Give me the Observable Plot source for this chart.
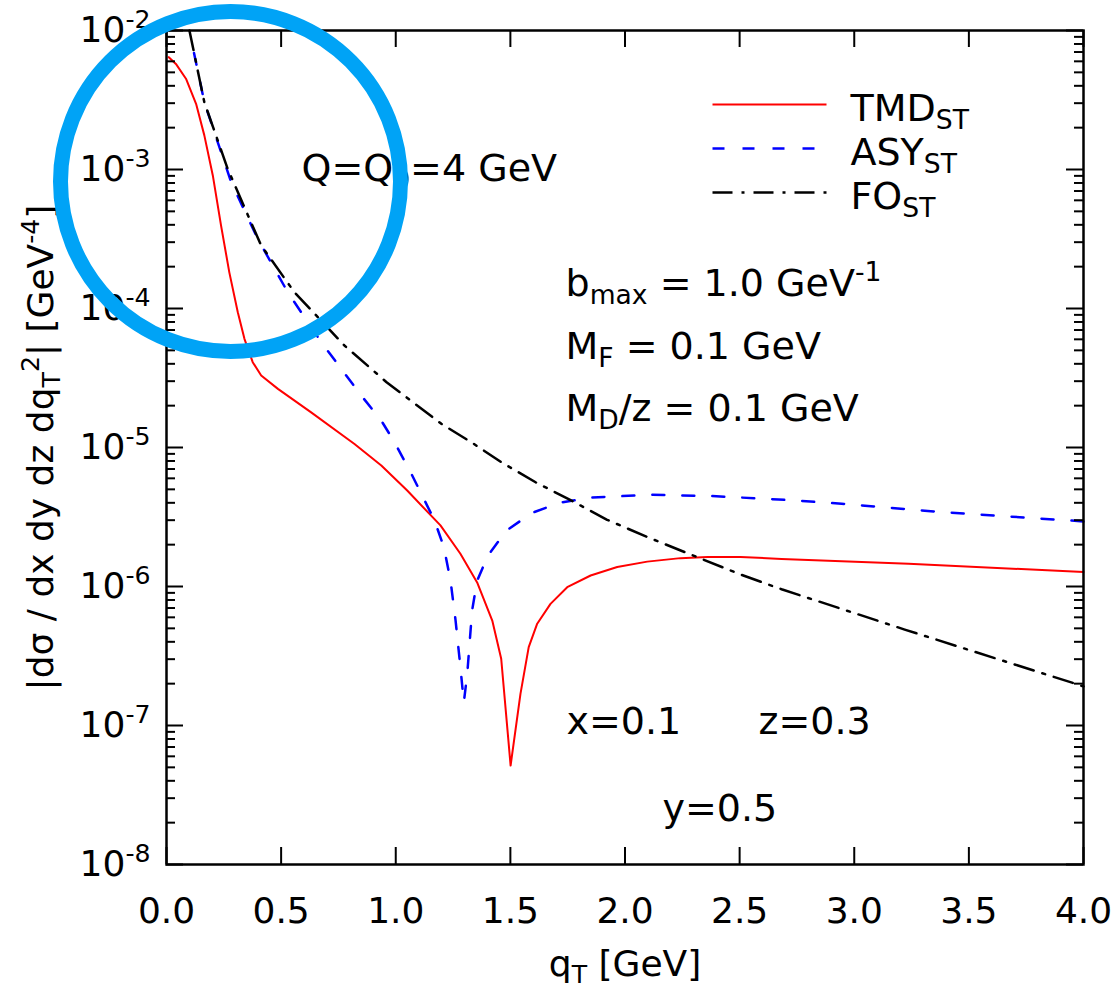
<!DOCTYPE html>
<html>
<head>
<meta charset="utf-8">
<script src="https://cdn.jsdelivr.net/npm/d3@7"></script>
<script src="https://cdn.jsdelivr.net/npm/@observablehq/plot@0.6"></script>
<style>
  html, body { margin: 0; padding: 0; background: #fff; }
  svg { display: block; }
</style>
</head>
<body>
<div id="chart"></div>
<script>
// ---------- data ----------
const tmdQ = [0.01, 0.041, 0.085, 0.129, 0.165, 0.202, 0.238, 0.274, 0.311, 0.34, 0.376, 0.413, 0.486, 0.631, 0.82, 0.937, 1.05, 1.195, 1.282, 1.355, 1.421, 1.46, 1.501, 1.544, 1.58, 1.617, 1.675, 1.748, 1.85, 1.966, 2.097, 2.242, 2.359, 2.504, 2.683, 3.237, 4.0];
const tmdV = [6.43e-3, 5.75e-3, 4.50e-3, 2.97e-3, 1.76e-3, 9.06e-4, 3.95e-4, 1.82e-4, 9.40e-5, 6.05e-5, 4.11e-5, 3.30e-5, 2.64e-5, 1.79e-5, 1.06e-5, 7.43e-6, 4.90e-6, 2.75e-6, 1.72e-6, 1.07e-6, 5.69e-7, 3.02e-7, 5.15e-8, 1.69e-7, 3.66e-7, 5.40e-7, 7.50e-7, 9.89e-7, 1.20e-6, 1.38e-6, 1.51e-6, 1.60e-6, 1.63e-6, 1.63e-6, 1.58e-6, 1.46e-6, 1.27e-6];

const asyQ = [0.12, 0.165, 0.282, 0.398, 0.529, 0.675, 0.849, 0.937, 0.995, 1.068, 1.169, 1.21, 1.239, 1.261, 1.282, 1.297, 1.312, 1.333, 1.355, 1.402, 1.483, 1.595, 1.719, 1.857, 2.119, 2.38, 2.669, 2.945, 3.382, 4.0];
const asyV = [6.9e-3, 3.05e-3, 8.11e-4, 3.17e-4, 1.31e-4, 5.73e-5, 2.37e-5, 1.56e-5, 1.09e-5, 6.47e-6, 2.99e-6, 1.92e-6, 1.10e-6, 5.69e-7, 2.63e-7, 1.47e-7, 2.36e-7, 6.71e-7, 1.10e-6, 1.67e-6, 2.53e-6, 3.39e-6, 4.02e-6, 4.37e-6, 4.57e-6, 4.47e-6, 4.23e-6, 3.94e-6, 3.43e-6, 2.94e-6];

const foQ = [0.1, 0.165, 0.267, 0.413, 0.558, 0.776, 0.96, 1.199, 1.33, 1.461, 1.61, 1.752, 1.922, 2.1, 2.286, 2.504, 2.683, 3.22, 3.964, 4.0];
const foV = [1.0e-2, 3.05e-3, 1.01e-3, 2.84e-4, 1.31e-4, 5.42e-5, 2.95e-5, 1.48e-5, 1.09e-5, 7.83e-6, 5.62e-6, 4.27e-6, 3.02e-6, 2.26e-6, 1.70e-6, 1.22e-6, 9.55e-7, 4.90e-7, 2.00e-7, 1.91e-7];

const seriesNames = ["TMD_{ST}", "ASY_{ST}", "FO_{ST}"];
const xTicks = [0, 0.5, 1.0, 1.5, 2.0, 2.5, 3.0, 3.5, 4.0];
const yTicks = [1e-8, 1e-7, 1e-6, 1e-5, 1e-4, 1e-3, 1e-2];
const yMinor = yTicks.slice(0, -1).flatMap(d => [2, 3, 4, 5, 6, 7, 8, 9].map(k => k * d));

const annotations = ["Q=Q_{0}=4 GeV", "b_{max} = 1.0 GeV^{-1}", "M_{F} = 0.1 GeV", "M_{D}/z = 0.1 GeV", "x=0.1", "z=0.3", "y=0.5"];
const xLabel = "q_{T} [GeV]";
const yLabel = "|dσ / dx dy dz dq_{T}^{2}| [GeV^{-4}]";

// ---------- layout ----------
const W = 1118, H = 989;
const mL = 166, mR = 35, mT = 30, mB = 125;
const frameW = W - mL - mR, frameH = H - mT - mB;
const FS = 36, FS2 = 38;
// pixel -> data helpers for placing annotations
const xAt = px => (px - mL) / frameW * 4;
const yAt = py => Math.pow(10, -2 - (py - mT) / frameH * 6);

const rows = (qs, vs) => qs.map((q, i) => ({q, v: vs[i]}));
const styles = [
  {data: rows(tmdQ, tmdV), stroke: "#ff0000", width: 2, dash: null},
  {data: rows(asyQ, asyV), stroke: "#0000ff", width: 2.5, dash: "12,18"},
  {data: rows(foQ, foV), stroke: "#000000", width: 2.5, dash: "20,9,3,9"}
];

const annPos = [
  [301, 180], [565, 295], [565, 358], [565, 420], [566, 733], [758, 733], [662, 820]
];

const marks = [];
styles.forEach(s => {
  marks.push(Plot.line(s.data, {x: "q", y: "v", stroke: s.stroke, strokeWidth: s.width, strokeDasharray: s.dash, strokeLinejoin: "round"}));
});
// legend
seriesNames.forEach((name, i) => {
  const s = styles[i];
  const ly = 104 + 44 * i;
  marks.push(Plot.link([name], {x1: xAt(712), x2: xAt(826), y1: yAt(ly), y2: yAt(ly), stroke: s.stroke, strokeWidth: s.width, strokeDasharray: s.dash}));
  marks.push(Plot.text([name], {x: xAt(850), y: yAt(ly + 16), text: d => d, textAnchor: "start", lineAnchor: "bottom", fontSize: FS2, fill: "black"}));
});
// annotations
annotations.forEach((a, i) => {
  marks.push(Plot.text([a], {x: xAt(annPos[i][0]), y: yAt(annPos[i][1]), text: d => d, textAnchor: "start", lineAnchor: "bottom", fontSize: FS2, fill: "black"}));
});
// frame and inward ticks
marks.push(Plot.frame({stroke: "black", strokeWidth: 2.5}));
marks.push(Plot.tickX(xTicks, {x: d => d, insetTop: frameH - 17, stroke: "black", strokeWidth: 2}));
marks.push(Plot.tickX(xTicks, {x: d => d, insetBottom: frameH - 17, stroke: "black", strokeWidth: 2}));
marks.push(Plot.tickY(yTicks, {y: d => d, insetRight: frameW - 17, stroke: "black", strokeWidth: 2}));
marks.push(Plot.tickY(yTicks, {y: d => d, insetLeft: frameW - 17, stroke: "black", strokeWidth: 2}));
marks.push(Plot.tickY(yMinor, {y: d => d, insetRight: frameW - 9, stroke: "black", strokeWidth: 2}));
marks.push(Plot.tickY(yMinor, {y: d => d, insetLeft: frameW - 9, stroke: "black", strokeWidth: 2}));
// axes (labels only)
marks.push(Plot.axisX({ticks: xTicks, tickFormat: d => d.toFixed(1), tickSize: 0, tickPadding: 33, fontSize: FS, label: null, anchor: "bottom"}));
marks.push(Plot.axisY({ticks: yTicks, tickFormat: d => "10^{" + Math.round(Math.log10(d)) + "}", tickSize: 0, tickPadding: 16, fontSize: FS, label: null, anchor: "left"}));
// axis titles
marks.push(Plot.text([xLabel], {frameAnchor: "bottom", dy: 111, lineAnchor: "bottom", textAnchor: "middle", text: d => d, fontSize: FS, fill: "black"}));
marks.push(Plot.text([yLabel], {frameAnchor: "left", dx: -125.5, rotate: -90, textAnchor: "middle", text: d => d, fontSize: FS, fill: "black"}));
// highlight circle
marks.push(Plot.dot([0], {x: xAt(230), y: yAt(181), r: 170, stroke: "#00a3f6", strokeWidth: 15, fill: "none"}));

const svg = Plot.plot({
  width: W, height: H,
  marginLeft: mL, marginRight: mR, marginTop: mT, marginBottom: mB,
  x: {domain: [0, 4]},
  y: {type: "log", domain: [1e-8, 1e-2]},
  style: {fontFamily: "'DejaVu Sans', sans-serif", fontSize: FS + "px", background: "#fff", color: "black", overflow: "visible"},
  marks
});

// convert _{..} / ^{..} markup into real sub/superscript tspans
const SUB = 0.22, SUP = 0.38, SC = 0.7;
function richify(root) {
  root.querySelectorAll("text").forEach(t => {
    const s = t.textContent;
    if (!/[_^]\{/.test(s)) return;
    const parts = [];
    const re = /([_^])\{([^}]*)\}/g;
    let last = 0, m;
    while ((m = re.exec(s))) {
      if (m.index > last) parts.push({text: s.slice(last, m.index), mode: 0});
      parts.push({text: m[2], mode: m[1] === "_" ? -1 : 1});
      last = re.lastIndex;
    }
    if (last < s.length) parts.push({text: s.slice(last), mode: 0});
    t.textContent = "";
    let shift = 0;
    for (const p of parts) {
      const ts = document.createElementNS("http://www.w3.org/2000/svg", "tspan");
      const target = p.mode === -1 ? SUB : p.mode === 1 ? -SUP : 0;
      const scale = p.mode ? SC : 1;
      if (p.mode) ts.setAttribute("font-size", (SC * 100) + "%");
      const d = target - shift;
      if (d) ts.setAttribute("dy", (d / scale).toFixed(3) + "em");
      shift = target;
      ts.textContent = p.text;
      t.appendChild(ts);
    }
  });
}
richify(svg);
document.getElementById("chart").appendChild(svg);
</script>
</body>
</html>
